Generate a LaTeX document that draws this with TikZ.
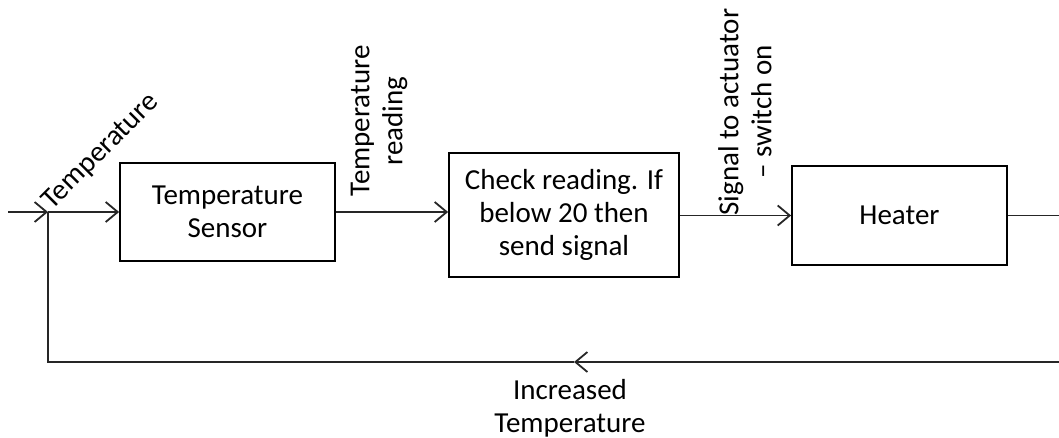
\documentclass[tikz,border=0pt]{standalone}
\usepackage{fontspec}
\setmainfont{Carlito}
\usetikzlibrary{arrows.meta}
\begin{document}
\begin{tikzpicture}[x=1pt,y=-1pt,
  every node/.style={font=\fontsize{29}{33}\selectfont, text=black},
  blockbox/.style={draw, line width=1.8pt, minimum width=215pt, minimum height=98pt, inner sep=0pt, align=center},
  wire/.style={line width=1.8pt, draw=black!85},
  tip/.style={-{Straight Barb[length=12pt,width=20pt,line width=1.8pt]}},
  lbl/.style={align=center, inner sep=0pt}]
\useasboundingbox (0,0) rectangle (1059,438);
\node[blockbox] (sensor) at (227.5,212) {Temperature\\Sensor};
\node[blockbox, minimum width=230pt, minimum height=124pt] (check) at (564,215) {Check reading. If\\below 20 then\\send signal};
\node[blockbox, minimum height=99pt] (heater) at (899.5,215.5) {Heater};
\coordinate (in) at (8,212);
\coordinate (junc) at (48,212);
\coordinate (ro) at (1059,215.5);
\coordinate (br) at (1059,362);
\coordinate (bm) at (574,362);
\coordinate (bl) at (48,362);
\draw[wire, tip] (in) -- (junc);
\draw[wire, tip] (junc) -- (sensor.west);
\draw[wire, tip] (sensor.east) -- (check.west |- sensor.east);
\draw[wire, tip] (check.east |- heater.west) -- (heater.west);
\draw[wire] (heater.east) -- (ro);
\draw[wire, tip] (br) -- (bm);
\draw[wire] (bm) -- (bl) -- (junc);
\node[lbl, rotate=45] (tlab) at (101,152) {Temperature};
\node[lbl, rotate=90] (rlab) at (379,121) {Temperature\\reading};
\node[lbl, rotate=90] (slab) at (745,112) {Signal to actuator\\– switch on};
\node[lbl] (ilab) at (570,408) {Increased\\Temperature};
\end{tikzpicture}
\end{document}
